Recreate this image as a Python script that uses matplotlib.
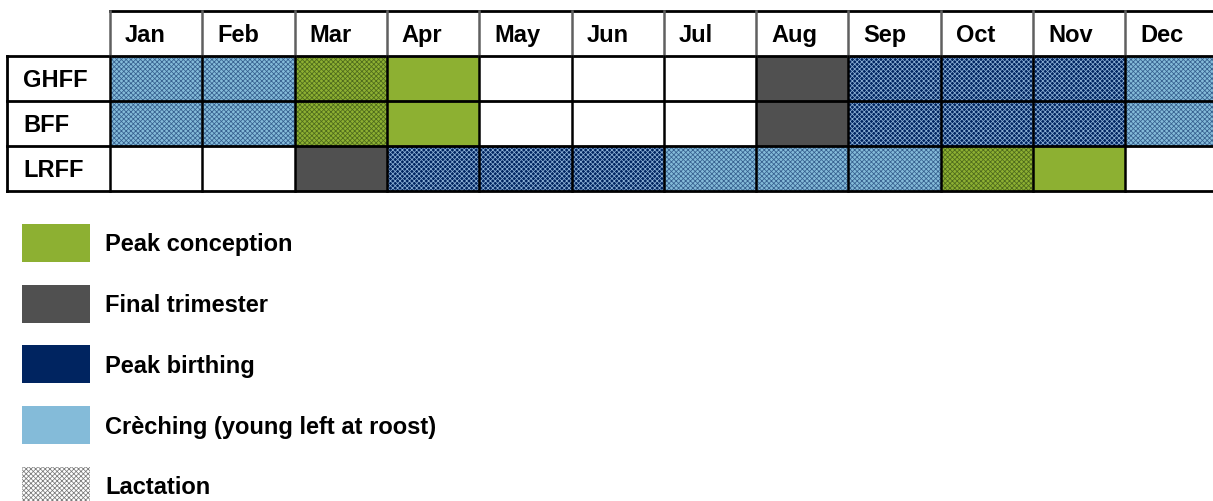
import matplotlib
matplotlib.use("Agg")
import matplotlib.pyplot as plt
from matplotlib.patches import Rectangle

# Данные
months = ["Jan", "Feb", "Mar", "Apr", "May", "Jun",
          "Jul", "Aug", "Sep", "Oct", "Nov", "Dec"]
species = ["GHFF", "BFF", "LRFF"]

# коды фаз: P - conception, F - final trimester, B - birthing, C - creching; +L - lactation
ghff = ["C+L", "C+L", "P+L", "P", "", "", "", "F", "B+L", "B+L", "B+L", "C+L"]
bff = ["C+L", "C+L", "P+L", "P", "", "", "", "F", "B+L", "B+L", "B+L", "C+L"]
lrff = ["", "", "F", "B+L", "B+L", "B+L", "C+L", "C+L", "C+L", "P+L", "P", ""]
phases = [ghff, bff, lrff]

legend_labels = ["Peak conception", "Final trimester", "Peak birthing",
                 "Crèching (young left at roost)", "Lactation"]
legend_codes = ["P", "F", "B", "C", "L"]

colors = {"P": "#8db032", "F": "#505050", "B": "#002460", "C": "#84bbd9", "L": "white"}
# цвет штриховки лактации поверх каждого фона
hatch_colors = {"P": "#4e6a1c", "B": "#8cb0d6", "C": "#36608f", "L": "#7a7a7a"}

plt.rcParams["font.family"] = ["Liberation Sans", "DejaVu Sans"]
plt.rcParams["hatch.linewidth"] = 0.55

W, H = 1213, 502
fig = plt.figure(figsize=(W / 100, H / 100), dpi=100)
ax = fig.add_axes([0, 0, 1, 1])
ax.set_xlim(0, W)
ax.set_ylim(H, 0)
ax.axis("off")

# геометрия таблицы
x0 = 7          # левый край столбца подписей
xm = 110        # начало месяцев
cw = 92.3       # ширина месяца
y_top = 12
hh = 45         # высота заголовка
rh = 45         # высота строки
fs = 17


def draw_cell(x, y, w, h, code):
    if not code:
        return
    base = code.split("+")[0]
    ax.add_patch(Rectangle((x, y), w, h, facecolor=colors[base], edgecolor="none", zorder=1))
    if code.endswith("L"):
        ax.add_patch(Rectangle((x, y), w, h, facecolor="none", edgecolor=hatch_colors[base],
                               linewidth=0, hatch="xxxxxxx", zorder=2))


# ячейки
for r, row in enumerate(phases):
    y = y_top + hh + r * rh
    for c, code in enumerate(row):
        draw_cell(xm + c * cw, y, cw, rh, code)

# заголовки месяцев
for c, m in enumerate(months):
    ax.text(xm + c * cw + 15, y_top + hh / 2 + 1, m, fontsize=fs, fontweight="bold",
            va="center", ha="left", zorder=5)
# подписи строк
for r, s in enumerate(species):
    ax.text(x0 + 16, y_top + hh + r * rh + rh / 2 + 1, s, fontsize=fs, fontweight="bold",
            va="center", ha="left", zorder=5)

# линии сетки
x_end = xm + 12 * cw
y_end = y_top + hh + 3 * rh
ax.plot([xm, x_end], [y_top, y_top], color="black", lw=2, zorder=4)
for r in range(4):
    y = y_top + hh + r * rh
    ax.plot([x0, x_end], [y, y], color="black", lw=2, zorder=4)
ax.plot([x0, x0], [y_top + hh, y_end], color="black", lw=2, zorder=4)
for c in range(13):
    x = xm + c * cw
    ax.plot([x, x], [y_top, y_top + hh], color="#606060", lw=1.8, zorder=4)
    ax.plot([x, x], [y_top + hh, y_end], color="black", lw=1.8, zorder=4)

# легенда
for i, (lab, code) in enumerate(zip(legend_labels, legend_codes)):
    y = 225 + i * 60.7
    draw_cell(22, y, 68, 38, code if code != "L" else "L+L")
    ax.text(105, y + 20, lab, fontsize=fs, fontweight="bold", va="center", ha="left")

fig.savefig("out.png", dpi=100)
